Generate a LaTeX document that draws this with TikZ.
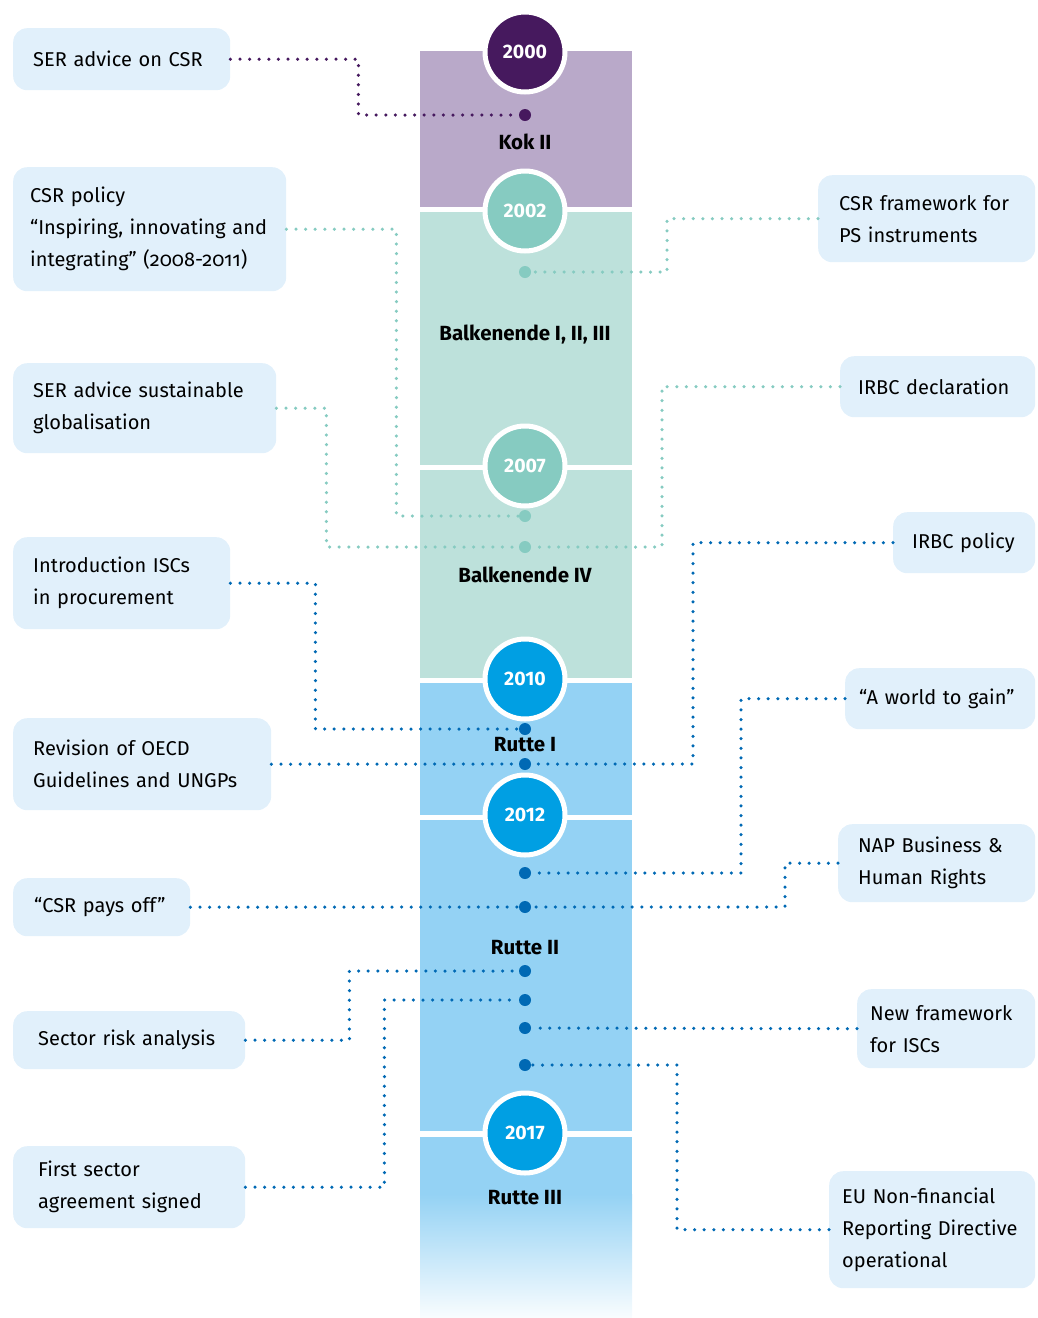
\documentclass[tikz,border=0pt]{standalone}
\usepackage{fontspec}
\setmainfont{Fira Sans}[Numbers=OldStyle]
\newfontfamily\yearfont{Fira Sans}
\usetikzlibrary{positioning}
\definecolor{purpleD}{HTML}{46195E}
\definecolor{purpleL}{HTML}{B9A9C9}
\definecolor{tealD}{HTML}{86CBC1}
\definecolor{tealL}{HTML}{BDE1DB}
\definecolor{blueD}{HTML}{009FE3}
\definecolor{blueL}{HTML}{94D2F4}
\definecolor{dotBlue}{HTML}{0069B4}
\definecolor{boxC}{HTML}{E1F0FB}
\tikzset{
    box/.style={fill=boxC, rounded corners=14pt, align=left, anchor=north west,
        inner xsep=20pt, inner ysep=0pt, font=\fontsize{20}{32}\selectfont},
    year/.style={circle, draw=white, line width=5pt, minimum size=80pt,
        inner sep=0pt, text=white, font=\fontsize{19.5}{19.5}\selectfont\bfseries\yearfont},
    cabinet/.style={font=\fontsize{20.5}{24}\selectfont\bfseries},
    enddot/.style={circle, fill=#1, minimum size=12pt, inner sep=0pt},
    dotline/.style={draw=#1, line width=3.5pt, line cap=round,
        dash pattern=on 0pt off 9.6pt}
}

\begin{document}
\begin{tikzpicture}[x=1pt,y=-1pt]
    \useasboundingbox (0,0) rectangle (1037,1318);

    % timeline column
    \fill[purpleL] (420,51) rectangle (632,207);
    \fill[tealL] (420,212) rectangle (632,465);
    \fill[tealL] (420,470) rectangle (632,678);
    \fill[blueL] (420,683) rectangle (632,815);
    \fill[blueL] (420,820) rectangle (632,1131);
    \fill[blueL] (420,1137) rectangle (632,1195);
    \shade[top color=blueL, bottom color=blueL!6] (420,1194) rectangle (632,1318);

    % boxes left
    \node[box, text width=177pt, minimum height=62pt] (serCsr) at (13,28) {SER advice on CSR};
    \node[box, inner xsep=17pt, text width=239pt, minimum height=124pt] (csrPol) at (13,167)
        {CSR policy\\``Inspiring, innovating and\\integrating'' (2008-2011)};
    \node[box, text width=223pt, minimum height=90pt] (serGlob) at (13,363)
        {SER advice sustainable\\globalisation};
    \node[box, text width=177pt, minimum height=92pt] (iscProc) at (13,537)
        {Introduction ISCs\\in procurement};
    \node[box, text width=218pt, minimum height=92pt] (oecd) at (13,718)
        {Revision of OECD\\Guidelines and UNGPs};
    \node[box, inner xsep=21pt, text width=135pt, minimum height=58pt] (csrPays) at (13,878)
        {``CSR pays off''};
    \node[box, inner xsep=25pt, text width=182pt, minimum height=58pt] (riskAn) at (13,1011)
        {Sector risk analysis};
    \node[box, inner xsep=25pt, text width=182pt, minimum height=82pt] (sectorAgr) at (13,1146)
        {First sector\\agreement signed};

    % boxes right
    \node[box, inner xsep=21pt, text width=175pt, minimum height=87pt] (psFw) at (818,175)
        {CSR framework for\\PS instruments};
    \node[box, inner xsep=18pt, text width=159pt, minimum height=61pt] (irbcDecl) at (840,356)
        {IRBC~declaration};
    \node[box, inner xsep=19pt, text width=104pt, minimum height=61pt] (irbcPol) at (893,512)
        {IRBC policy};
    \node[box, inner xsep=14pt, text width=162pt, minimum height=61pt] (worldGain) at (845,668)
        {``A~world~to~gain''};
    \node[box, inner xsep=20pt, text width=157pt, minimum height=78pt] (napBhr) at (838,824)
        {NAP Business \&\\Human Rights};
    \node[box, inner xsep=13pt, text width=152pt, minimum height=79pt] (newFw) at (857,989)
        {New framework\\for ISCs};
    \node[box, inner xsep=13pt, text width=180pt, minimum height=117pt] (euDir) at (829,1171)
        {EU Non-financial\\Reporting Directive\\operational};

    % dots on the column
    \node[enddot=purpleD] (d1) at (525,115) {};
    \node[enddot=tealD] (d2) at (525,272) {};
    \node[enddot=tealD] (d3) at (525,516) {};
    \node[enddot=tealD] (d4) at (525,547) {};
    \node[enddot=dotBlue] (d5) at (525,729) {};
    \node[enddot=dotBlue] (d6) at (525,764) {};
    \node[enddot=dotBlue] (d7) at (525,873) {};
    \node[enddot=dotBlue] (d8) at (525,907) {};
    \node[enddot=dotBlue] (d9) at (525,971) {};
    \node[enddot=dotBlue] (d10) at (525,1000) {};
    \node[enddot=dotBlue] (d11) at (525,1028) {};
    \node[enddot=dotBlue] (d12) at (525,1065) {};

    % connectors
    \draw[dotline=purpleD] (serCsr.east) -- ++(128,0) |- (d1);
    \draw[dotline=tealD] (csrPol.east) -- ++(110,0) |- (d3);
    \draw[dotline=tealD] (serGlob.east) -- ++(50,0) |- (d4);
    \draw[dotline=tealD] (psFw.west) -- ++(-151,0) |- (d2);
    \draw[dotline=tealD] (irbcDecl.west) -- ++(-178,0) |- (d4);
    \draw[dotline=dotBlue] (iscProc.east) -- ++(85,0) |- (d5);
    \draw[dotline=dotBlue] (oecd.east) -- (d6);
    \draw[dotline=dotBlue] (irbcPol.west) -- ++(-200,0) |- (d6);
    \draw[dotline=dotBlue] (worldGain.west) -- ++(-104,0) |- (d7);
    \draw[dotline=dotBlue] (csrPays.east) -- (d8);
    \draw[dotline=dotBlue] (napBhr.west) -- ++(-53,0) |- (d8);
    \draw[dotline=dotBlue] (riskAn.east) -- ++(104,0) |- (d9);
    \draw[dotline=dotBlue] (sectorAgr.east) -- ++(139,0) |- (d10);
    \draw[dotline=dotBlue] (newFw.west) -- (d11);
    \draw[dotline=dotBlue] (euDir.west) -- ++(-152,0) |- (d12);

    % years
    \node[year, fill=purpleD] (y2000) at (525,52) {2000};
    \node[year, fill=tealD] (y2002) at (525,211) {2002};
    \node[year, fill=tealD] (y2007) at (525,466) {2007};
    \node[year, fill=blueD] (y2010) at (525,679) {2010};
    \node[year, fill=blueD] (y2012) at (525,815) {2012};
    \node[year, fill=blueD] (y2017) at (525,1133) {2017};

    % cabinets
    \node[cabinet] (kok) at (525,142) {Kok II};
    \node[cabinet] (balk) at (525,335) {Balkenende I, II, III};
    \node[cabinet] (balkIV) at (525,575) {Balkenende IV};
    \node[cabinet] (rutteI) at (525,745) {Rutte I};
    \node[cabinet] (rutteII) at (525,948) {Rutte II};
    \node[cabinet] (rutteIII) at (525,1198) {Rutte III};
\end{tikzpicture}
\end{document}
